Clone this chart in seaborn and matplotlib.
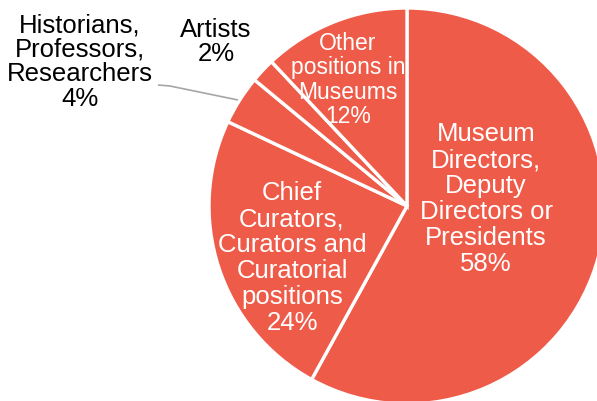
import matplotlib
matplotlib.use("Agg")
import matplotlib.pyplot as plt
import seaborn as sns

# Share of positions held, clockwise from twelve o'clock
categories = [
    "Museum\nDirectors,\nDeputy\nDirectors or\nPresidents",
    "Chief\nCurators,\nCurators and\nCuratorial\npositions",
    "Historians,\nProfessors,\nResearchers",
    "Artists",
    "Other\npositions in\nMuseums",
]
shares = [58, 24, 4, 2, 12]

sns.set_theme(style="white")
plt.rcParams["font.family"] = ["Liberation Sans", "DejaVu Sans"]

W, H = 597, 401
fig = plt.figure(figsize=(W / 100, H / 100), dpi=100)
ax = fig.add_axes([0, 0, 1, 1])

slice_color = "#EF5B49"
cx, cy, r = 407, H - 206, 198
wedges, _ = ax.pie(
    shares,
    colors=[slice_color] * len(shares),
    startangle=90,
    counterclock=False,
    center=(cx, cy),
    radius=r,
    frame=True,
    wedgeprops=dict(edgecolor="white", linewidth=2.4),
)
ax.set_xlim(0, W)
ax.set_ylim(0, H)
ax.set_aspect("equal")
ax.axis("off")

labels = [f"{c}\n{v}%" for c, v in zip(categories, shares)]

# label anchors (pixel space, y measured from top), colour, size
placements = [
    ((486, 199), "white", 18.5, 1.1),
    ((292, 258), "white", 18.5, 1.1),
    ((80, 62), "black", 18.5, 1.02),
    ((216, 42), "black", 18.5, 1.02),
    ((348, 80), "white", 16.5, 1.07),
]
for text, ((x, y), col, fs, ls) in zip(labels, placements):
    ax.text(x, H - y, text, ha="center", va="center", color=col,
            fontsize=fs, linespacing=ls)

# leader line for the small slice
ax.plot([158, 170, 238], [H - 85, H - 86, H - 100], color="#A6A6A6",
        linewidth=1.2, solid_capstyle="butt")

fig.savefig("out.png", dpi=100)
